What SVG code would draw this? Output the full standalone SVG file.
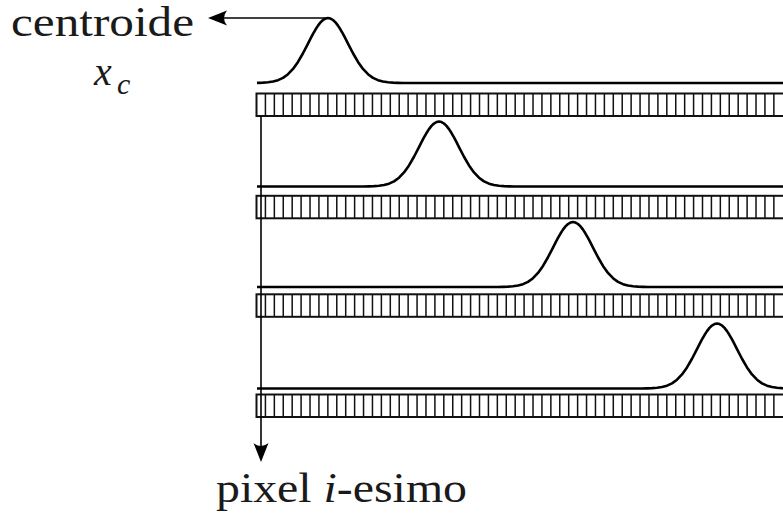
<svg xmlns="http://www.w3.org/2000/svg" xmlns:xlink="http://www.w3.org/1999/xlink" width="783" height="518" viewBox="0 0 783 518">
<style>
.txt{font-family:"Times New Roman","Liberation Serif","DejaVu Serif","Noto Serif",Tinos,FreeSerif,serif;fill:#1a1a1a}
.curve{fill:none;stroke:#000;stroke-width:2.6;stroke-linejoin:round;stroke-linecap:butt}
.barbox{fill:#fff;stroke:#111;stroke-width:2}
.cells{fill:none;stroke:#111;stroke-width:1.5}
.conn{fill:none;stroke:#000;stroke-width:1.6}
.head{fill:#000;stroke:none}
</style>
<defs>
<g id="bar">
<rect class="barbox" x="256.5" y="0" width="540" height="22.5"/>
<path class="cells" d="M265.42,0v22.5m8.92-22.5v22.5m8.92-22.5v22.5m8.92-22.5v22.5m8.92-22.5v22.5m8.92-22.5v22.5m8.92-22.5v22.5m8.92-22.5v22.5m8.92-22.5v22.5m8.92-22.5v22.5m8.92-22.5v22.5m8.92-22.5v22.5m8.92-22.5v22.5m8.92-22.5v22.5m8.92-22.5v22.5m8.92-22.5v22.5m8.92-22.5v22.5m8.92-22.5v22.5m8.92-22.5v22.5m8.92-22.5v22.5m8.92-22.5v22.5m8.92-22.5v22.5m8.92-22.5v22.5m8.92-22.5v22.5m8.92-22.5v22.5m8.92-22.5v22.5m8.92-22.5v22.5m8.92-22.5v22.5m8.92-22.5v22.5m8.92-22.5v22.5m8.92-22.5v22.5m8.92-22.5v22.5m8.92-22.5v22.5m8.92-22.5v22.5m8.92-22.5v22.5m8.92-22.5v22.5m8.92-22.5v22.5m8.92-22.5v22.5m8.92-22.5v22.5m8.92-22.5v22.5m8.92-22.5v22.5m8.92-22.5v22.5m8.92-22.5v22.5m8.92-22.5v22.5m8.92-22.5v22.5m8.92-22.5v22.5m8.92-22.5v22.5m8.92-22.5v22.5m8.92-22.5v22.5m8.92-22.5v22.5m8.92-22.5v22.5m8.92-22.5v22.5m8.92-22.5v22.5m8.92-22.5v22.5m8.92-22.5v22.5m8.92-22.5v22.5m8.92-22.5v22.5m8.92-22.5v22.5"/>
</g>
</defs>
<g id="row1">
<path class="curve" transform="translate(328,83)" d="M-71,0 L-70,-0.14 L-65,-0.33 L-60,-0.72 L-55,-1.48 L-50,-2.85 L-45,-5.17 L-40,-8.8 L-35,-14.06 L-30,-21.1 L-25,-29.76 L-20,-39.42 L-17.5,-44.3 L-15,-49.06 L-12.5,-53.47 L-10,-57.36 L-7.5,-60.58 L-5,-63 L-2.5,-64.49 L0,-65 L2.5,-64.49 L5,-63 L7.5,-60.58 L10,-57.36 L12.5,-53.47 L15,-49.06 L17.5,-44.3 L20,-39.42 L25,-29.76 L30,-21.1 L35,-14.06 L40,-8.8 L45,-5.17 L50,-2.85 L55,-1.48 L60,-0.72 L65,-0.33 L70,-0.14 L75,0 H470"/>
<use xlink:href="#bar" href="#bar" y="93.5"/>
</g>
<g id="row2">
<path class="curve" transform="translate(439,186.5)" d="M-182,0 H-75 L-70,-0.14 L-65,-0.33 L-60,-0.72 L-55,-1.48 L-50,-2.85 L-45,-5.17 L-40,-8.8 L-35,-14.06 L-30,-21.1 L-25,-29.76 L-20,-39.42 L-17.5,-44.3 L-15,-49.06 L-12.5,-53.47 L-10,-57.36 L-7.5,-60.58 L-5,-63 L-2.5,-64.49 L0,-65 L2.5,-64.49 L5,-63 L7.5,-60.58 L10,-57.36 L12.5,-53.47 L15,-49.06 L17.5,-44.3 L20,-39.42 L25,-29.76 L30,-21.1 L35,-14.06 L40,-8.8 L45,-5.17 L50,-2.85 L55,-1.48 L60,-0.72 L65,-0.33 L70,-0.14 L75,0 H360"/>
<use xlink:href="#bar" href="#bar" y="195.8"/>
</g>
<g id="row3">
<path class="curve" transform="translate(573,287)" d="M-316,0 H-75 L-70,-0.14 L-65,-0.33 L-60,-0.72 L-55,-1.48 L-50,-2.85 L-45,-5.17 L-40,-8.8 L-35,-14.06 L-30,-21.1 L-25,-29.76 L-20,-39.42 L-17.5,-44.3 L-15,-49.06 L-12.5,-53.47 L-10,-57.36 L-7.5,-60.58 L-5,-63 L-2.5,-64.49 L0,-65 L2.5,-64.49 L5,-63 L7.5,-60.58 L10,-57.36 L12.5,-53.47 L15,-49.06 L17.5,-44.3 L20,-39.42 L25,-29.76 L30,-21.1 L35,-14.06 L40,-8.8 L45,-5.17 L50,-2.85 L55,-1.48 L60,-0.72 L65,-0.33 L70,-0.14 L75,0 H230"/>
<use xlink:href="#bar" href="#bar" y="294.3"/>
</g>
<g id="row4">
<path class="curve" transform="translate(717,388.5)" d="M-460,0 H-75 L-70,-0.14 L-65,-0.33 L-60,-0.72 L-55,-1.48 L-50,-2.85 L-45,-5.17 L-40,-8.8 L-35,-14.06 L-30,-21.1 L-25,-29.76 L-20,-39.42 L-17.5,-44.3 L-15,-49.06 L-12.5,-53.47 L-10,-57.36 L-7.5,-60.58 L-5,-63 L-2.5,-64.49 L0,-65 L2.5,-64.49 L5,-63 L7.5,-60.58 L10,-57.36 L12.5,-53.47 L15,-49.06 L17.5,-44.3 L20,-39.42 L25,-29.76 L30,-21.1 L35,-14.06 L40,-8.8 L45,-5.17 L50,-2.85 L55,-1.48 L60,-0.72 L65,-0.33 L70,-0.14 L75,0 H90"/>
<use xlink:href="#bar" href="#bar" y="394.5"/>
</g>
<g id="connectors">
<path class="conn" d="M328,18 H221"/>
<path class="head" d="M208,18 L227,10.5 Q221,18 227,25.5 Z"/>
<path class="conn" d="M261,116 V449"/>
<path class="head" d="M261,462 L253.5,443 Q261,449 268.5,443 Z"/>
</g>
<g id="label-centroide">
<text class="txt" x="11" y="36" font-size="42" textLength="183" lengthAdjust="spacingAndGlyphs">centroide</text>
</g>
<g id="label-xc">
<text class="txt" x="94" y="85" font-size="40" font-style="italic">x</text>
<text class="txt" x="117" y="94" font-size="30" font-style="italic">c</text>
</g>
<g id="label-pixel">
<text class="txt" x="216" y="502" font-size="42" textLength="251" lengthAdjust="spacingAndGlyphs">pixel <tspan font-style="italic">i</tspan>-esimo</text>
</g>
</svg>
